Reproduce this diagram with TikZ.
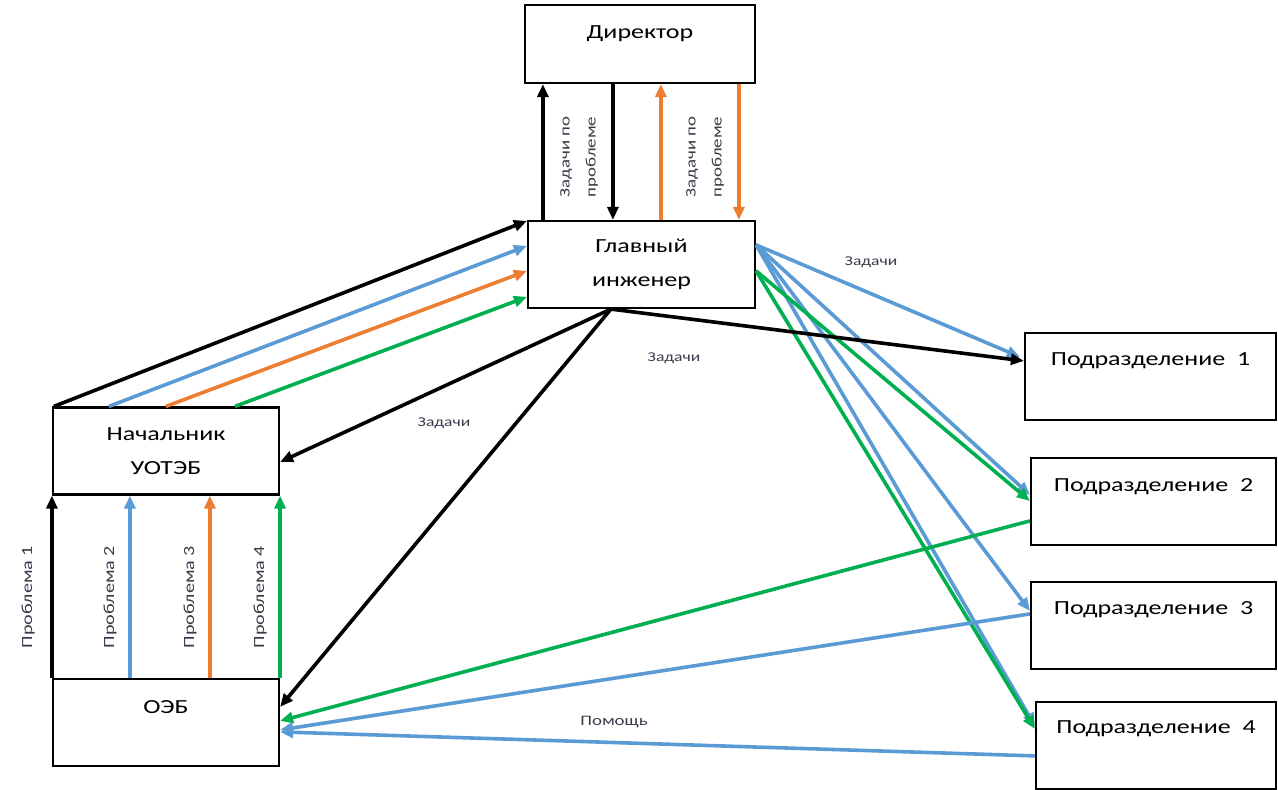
\documentclass[tikz,border=0pt]{standalone}
\usepackage{fontspec}
\setmainfont[FakeStretch=1.3]{Carlito}
\usetikzlibrary{arrows.meta,calc}
\definecolor{cblue}{HTML}{5B9BD5}
\definecolor{corange}{HTML}{ED7D31}
\definecolor{cgreen}{HTML}{00B050}
\definecolor{ctext}{HTML}{3A3A4A}
\begin{document}
\begin{tikzpicture}[x=1pt,y=-1pt,
  box/.style={draw, line width=2.2pt, inner sep=0pt, fill=white},
  con/.style={line width=3.6pt, -{Triangle[length=13pt,width=11pt]}},
  boxtxt/.style={font=\fontsize{20}{34}\selectfont},
  smalltxt/.style={font=\fontsize{13.5}{15}\selectfont, text=ctext},
  vtxt/.style={font=\fontsize{#1}{26}\selectfont, text=ctext, rotate=90, align=center},
  wbox/.style={box, minimum width=#1pt, minimum height=87pt}
]
\useasboundingbox (0,0) rectangle (1278,790);

% boxes
\node[box, minimum width=230pt, minimum height=78pt,
      label={[boxtxt, anchor=center, yshift=-30pt]north:Директор}] (dir) at (640,44) {};
\node[wbox=227, boxtxt, align=center] (eng) at (641.5,264.5) {Главный\\инженер};
\node[wbox=226, boxtxt, align=center] (nach) at (166,451) {Начальник\\УОТЭБ};
\node[wbox=226, label={[boxtxt, anchor=center, yshift=-29pt]north:ОЭБ}] (oeb) at (166,722.5) {};
\node[wbox=251, label={[boxtxt, anchor=center, yshift=-29pt]north:Подразделение~ 1}] (p1) at (1150.5,376.5) {};
\node[wbox=245, label={[boxtxt, anchor=center, yshift=-30pt]north:Подразделение~ 2}] (p2) at (1153.5,501.5) {};
\node[wbox=245, label={[boxtxt, anchor=center, yshift=-29pt]north:Подразделение~ 3}] (p3) at (1153.5,625.5) {};
\node[wbox=240, label={[boxtxt, anchor=center, yshift=-28pt]north:Подразделение~ 4}] (p4) at (1156,745.5) {};

% director <-> engineer
\draw[con] ([xshift=16pt]eng.north west) -- ([xshift=16pt]eng.north west |- dir.south);
\draw[con] ([xshift=86pt]eng.north west |- dir.south) -- ([xshift=86pt]eng.north west);
\draw[con, corange] ([xshift=134pt]eng.north west) -- ([xshift=134pt]eng.north west |- dir.south);
\draw[con, corange] ([xshift=212pt]eng.north west |- dir.south) -- ([xshift=212pt]eng.north west);
\node[vtxt=14.5] (t1) at (579,157) {Задачи по\\проблеме};
\node[vtxt=14.5] (t2) at (705,157) {Задачи по\\проблеме};

% OEB -> Nachalnik
\draw[con] (oeb.north west) -- (nach.south west);
\draw[con, cblue] ([xshift=78pt]oeb.north west) -- ([xshift=78pt]nach.south west);
\draw[con, corange] ([xshift=158pt]oeb.north west) -- ([xshift=158pt]nach.south west);
\draw[con, cgreen] (oeb.north east) -- (nach.south east);
\node[vtxt=15.5] (q1) at (28,597) {Проблема 1};
\node[vtxt=15.5] (q2) at (110,597) {Проблема 2};
\node[vtxt=15.5] (q3) at (190,597) {Проблема 3};
\node[vtxt=15.5] (q4) at (260,597) {Проблема 4};

% Nachalnik -> engineer
\draw[con] ([xshift=2pt]nach.north west) -- ([yshift=-1pt]eng.north west);
\draw[con, cblue] ([xshift=57pt]nach.north west) -- ([yshift=-26pt]eng.north west);
\draw[con, corange] ([xshift=114pt]nach.north west) -- ([yshift=-51pt]eng.north west);
\draw[con, cgreen] ([xshift=183pt]nach.north west) -- ([yshift=-77pt]eng.north west);

% engineer -> subdivisions (blue, green)
\coordinate (eb) at ([yshift=-25pt]eng.north east);
\coordinate (eg) at ([yshift=-51pt]eng.north east);
\draw[con, cblue] (eb) -- ([xshift=-4pt,yshift=-25pt]p1.north west);
\draw[con, cblue] (eb) -- ([yshift=-38pt]p2.north west);
\draw[con, cblue] (eb) -- ([yshift=-30pt]p3.north west);
\draw[con, cblue] (eb) -- ([yshift=-25pt]p4.north west);
\draw[con, cgreen] (eg) -- ([yshift=-44pt]p2.north west);
\draw[con, cgreen] (eg) -- ([yshift=-28pt]p4.north west);

% back to OEB
\draw[con, cgreen] ([yshift=-64pt]p2.north west) -- ([yshift=-43pt]oeb.north east);
\draw[con, cblue] ([yshift=-33pt]p3.north west) -- ([yshift=-52pt]oeb.north east);
\draw[con, cblue] ([yshift=-55pt]p4.north west) -- ([yshift=-54pt]oeb.north east);

% engineer black tasks
\coordinate (es) at ([xshift=84pt]eng.south west);
\draw[con] (es) -- ([yshift=-11pt]nach.east);
\draw[con] (es) -- ([yshift=-29pt]oeb.north east);
\draw[con] (es) -- ([yshift=-29pt]p1.north west);

% small labels
\node[smalltxt] (z1) at (871,262) {Задачи};
\node[smalltxt] (z2) at (674,358) {Задачи};
\node[smalltxt] (z3) at (444,423) {Задачи};
\node[smalltxt, font=\fontsize{14.5}{16}\selectfont] (h1) at (614,722) {Помощь};
\end{tikzpicture}
\end{document}
